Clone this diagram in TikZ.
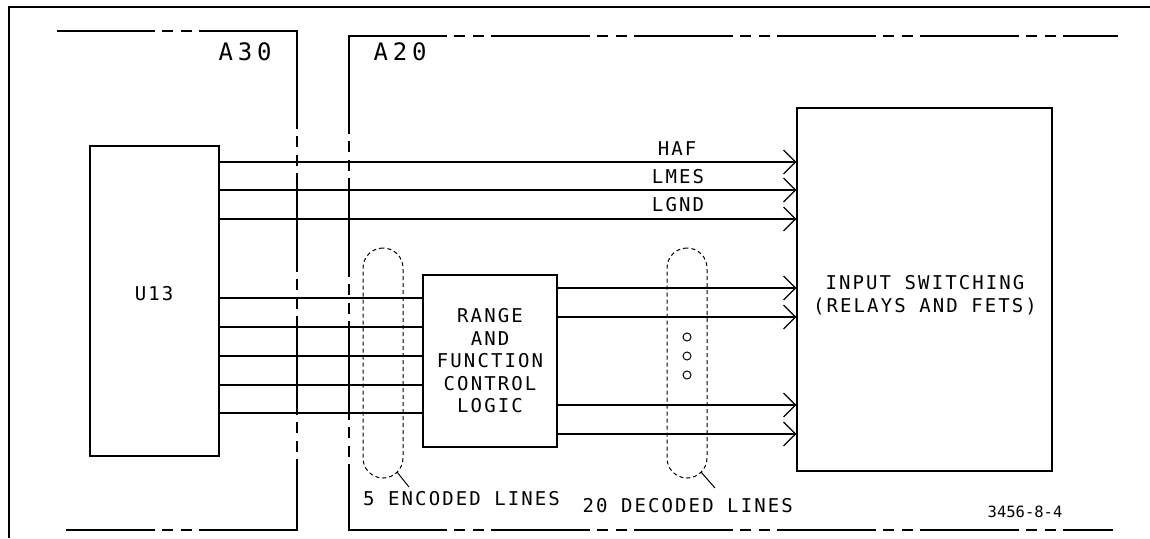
\documentclass[tikz,border=0pt]{standalone}
\usepackage{fontspec}
\usetikzlibrary{arrows.meta}
\newfontfamily\plotfont[LetterSpace=11]{DejaVu Sans Mono}
\newfontfamily\plotbig[LetterSpace=20]{DejaVu Sans Mono}
\newfontfamily\plotsmall{DejaVu Sans Mono}
\begin{document}
\begin{tikzpicture}[x=1pt,y=-1pt,
  box/.style={draw, line width=1.3pt, inner sep=0pt},
  wire/.style={line width=1.2pt},
  sig/.style={wire, -{Straight Barb[length=12pt,width=24pt]}},
  phantom/.style={line width=1.3pt, line cap=rect, dash pattern=on 97pt off 9pt on 9pt off 10pt on 9pt off 9pt},
  bundle/.style={draw, line width=1pt, dash pattern=on 4pt off 3pt, rounded corners=20pt, inner sep=0pt, minimum width=40pt, minimum height=230pt},
  lbl/.style={font=\plotfont\fontsize{19}{22.5}\selectfont, inner sep=0pt},
  biglbl/.style={font=\plotbig\fontsize{24}{28}\selectfont, inner sep=0pt},
  smalllbl/.style={font=\plotsmall\fontsize{15.5}{18}\selectfont, inner sep=0pt},
  leader/.style={line width=1pt}
]
\useasboundingbox (0,0) rectangle (1150,538);
\fill[white] (0,0) rectangle (1150,538);
% outer frame
\draw[line width=2.5pt] (1150,7) -- (9,7) -- (9,538);
% A30 board boundary
\draw[phantom] (297,31) -- (58,31);
\draw[phantom] (297,31) -- (297,530);
\draw[phantom] (297,530) -- (67,530);
% A20 board boundary
\draw[phantom] (349,36) -- (1117,36);
\draw[phantom] (349,36) -- (349,530);
\draw[phantom] (349,530) -- (1112,530);
\node[biglbl, anchor=base] (a30) at (245,60) {A30};
\node[biglbl, anchor=base] (a20) at (400,60) {A20};

% blocks
\node[box, minimum width=129pt, minimum height=310pt] (u13) at (154.5,301) {};
\node[lbl, anchor=base] (u13t) at (154,300) {U13};
\node[box, lbl, inner sep=0pt, draw, line width=1.3pt, minimum width=134pt, minimum height=172pt, align=center] (rcl) at (490,361)
  {RANGE\\AND\\FUNCTION\\CONTROL\\LOGIC};
\node[box, minimum width=255pt, minimum height=363pt] (inp) at (924.5,289.5) {};
\node[lbl, align=center] (inpt) at (925,295) {INPUT SWITCHING\\(RELAYS AND FETS)};

% direct signals
\foreach \y in {162,190,219} {
  \path (0,\y) coordinate (h);
  \draw[sig] (u13.east |- h) -- (inp.west |- h);
}
\node[lbl, anchor=base] (haf) at (677,155) {HAF};
\node[lbl, anchor=base] (lmes) at (678,183) {LMES};
\node[lbl, anchor=base] (lgnd) at (678,211) {LGND};

% encoded lines
\foreach \y in {298,327,356,385,413} {
  \path (0,\y) coordinate (h);
  \draw[wire] (u13.east |- h) -- (rcl.west |- h);
}
% decoded lines
\foreach \y in {288,317,405,434} {
  \path (0,\y) coordinate (h);
  \draw[sig] (rcl.east |- h) -- (inp.west |- h);
}

% bundles
\node[bundle] (enc) at (383,363) {};
\node[bundle] (dec) at (687,363) {};
\foreach \y/\n in {337/d1,356/d2,375/d3} {
  \node[circle, draw, line width=1pt, minimum size=8pt, inner sep=0pt] (\n) at (687,\y) {};
}
\coordinate (encA) at (397,472);
\coordinate (encB) at (409,487);
\draw[leader] (encA) -- (encB);
\coordinate (decA) at (701,472);
\coordinate (decB) at (715,488);
\draw[leader] (decA) -- (decB);
\node[lbl, anchor=base west] (enct) at (363,505) {5 ENCODED LINES};
\node[lbl, anchor=base east] (dect) at (793,512) {20 DECODED LINES};

\node[smalllbl, anchor=base] (fig) at (1025,517) {3456-8-4};
\end{tikzpicture}
\end{document}
